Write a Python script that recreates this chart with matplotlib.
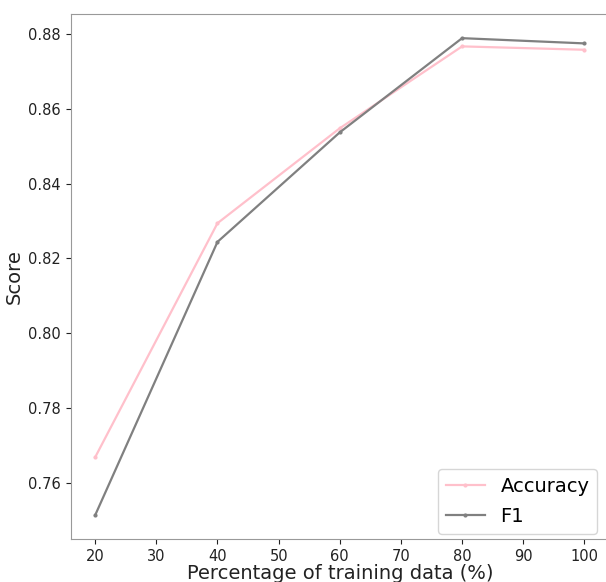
import matplotlib
matplotlib.use("Agg")
import matplotlib.pyplot as plt

x = [20, 40, 60, 80, 100]
accuracy = [0.7668, 0.8294, 0.8548, 0.8767, 0.8758]
f1 = [0.7513, 0.8244, 0.8537, 0.8789, 0.8775]

fig = plt.figure(figsize=(6.06, 5.82), dpi=100)
ax = fig.add_axes([0.1167, 0.0739, 0.888, 0.9015])

ax.plot(x, accuracy, color="pink", marker=".", markersize=4, linewidth=1.6, label="Accuracy")
ax.plot(x, f1, color="grey", marker=".", markersize=4, linewidth=1.6, label="F1")

ax.set_xticks([20, 30, 40, 50, 60, 70, 80, 90, 100])
ax.set_yticks([0.76, 0.78, 0.80, 0.82, 0.84, 0.86, 0.88])
ax.tick_params(labelsize=10.5, colors="#222222")
for s in ax.spines.values():
    s.set_color("0.6")
ax.spines["right"].set_visible(False)

ax.set_xlabel("Percentage of training data (%)", fontsize=14, color="#222222", labelpad=0)
ax.set_ylabel("Score", fontsize=14, color="#222222", labelpad=3)
ax.legend(loc="lower right", fontsize=14, borderaxespad=0.6,
          bbox_to_anchor=(1.0, -0.012), labelspacing=0.55)

fig.savefig("out.png", dpi=100)
